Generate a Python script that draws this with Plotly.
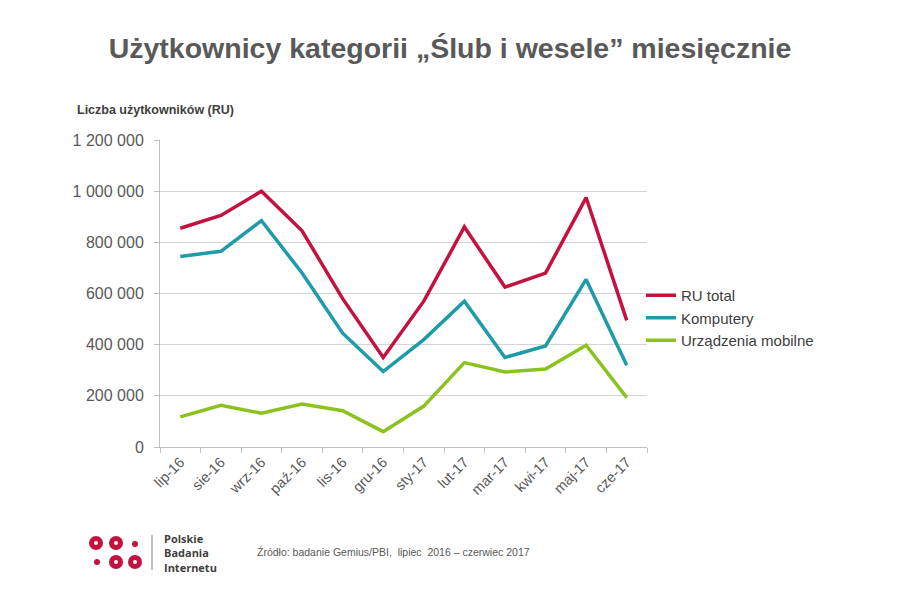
import plotly.graph_objects as go

months = ["lip-16", "sie-16", "wrz-16", "paź-16", "lis-16", "gru-16",
          "sty-17", "lut-17", "mar-17", "kwi-17", "maj-17", "cze-17"]
ru_total = [855000, 905000, 1000000, 845000, 580000, 350000,
            570000, 860000, 625000, 680000, 975000, 495000]
komputery = [745000, 765000, 885000, 680000, 445000, 295000,
             420000, 570000, 350000, 395000, 655000, 320000]
mobilne = [118000, 163000, 132000, 168000, 142000, 60000,
           160000, 330000, 293000, 305000, 398000, 193000]

y_ticks = [0, 200000, 400000, 600000, 800000, 1000000, 1200000]
y_labels = ["0", "200 000", "400 000", "600 000", "800 000", "1 000 000", "1 200 000"]

series = [
    ("RU total", ru_total, "#C4123F"),
    ("Komputery", komputery, "#1E9BA8"),
    ("Urządzenia mobilne", mobilne, "#8CC21E"),
]

# plot area in figure pixels (page is offset by 8px body margin)
L, R, T, B = 152, 261, 132, 161
PW, PH = 900 - L - R, 600 - T - B


def px(x):
    return (x - 8 - L) / PW


def py(y):
    return (600 - B - (y - 8)) / PH


fig = go.Figure()
for name, values, color in series:
    fig.add_trace(go.Scatter(x=months, y=values, mode="lines", name=name,
                             legendgroup=name,
                             line=dict(color=color, width=3.5)))

fig.update_layout(
    width=900, height=600,
    paper_bgcolor="white", plot_bgcolor="white",
    margin=dict(l=L, r=R, t=T, b=B),
    font=dict(family="Liberation Sans, Arial, sans-serif", color="#595959", size=14),
    title=dict(text="<b>Użytkownicy kategorii „Ślub i wesele” miesięcznie</b>",
               x=442 / 900, xanchor="center", y=1 - 40 / 600, yanchor="middle",
               font=dict(size=28.5, color="#595959")),
    showlegend=True,
    legend=dict(x=px(641), y=py(318), xanchor="left", yanchor="middle",
                font=dict(size=15, color="#404040"), itemwidth=30,
                traceorder="grouped", tracegroupgap=0, bgcolor="rgba(0,0,0,0)"),
)

fig.update_xaxes(
    type="category", range=[-0.5, len(months) - 0.5], tickangle=-45,
    tickson="boundaries", ticks="outside", ticklen=5, tickcolor="#BFBFBF",
    showline=True, linecolor="#BFBFBF", linewidth=1,
    showgrid=False, tickfont=dict(size=14.5, color="#595959"),
)
fig.update_yaxes(
    range=[0, 1200000], tickvals=y_ticks, ticktext=y_labels,
    ticks="outside", ticklen=5, tickcolor="#BFBFBF", ticklabelstandoff=7,
    showline=True, linecolor="#BFBFBF", linewidth=1,
    showgrid=True, gridcolor="#D4D4D4", gridwidth=1,
    zeroline=False, tickfont=dict(size=16, color="#595959"),
)

fig.add_annotation(text="<b>Liczba użytkowników (RU)</b>", xref="paper", yref="paper",
                   x=px(75), y=py(110), xanchor="left", yanchor="middle", showarrow=False,
                   font=dict(size=12.5, color="#404040"))

fig.add_annotation(text="Źródło: badanie Gemius/PBI,  lipiec  2016 – czerwiec 2017",
                   xref="paper", yref="paper", x=px(255), y=py(552),
                   xanchor="left", yanchor="middle", showarrow=False,
                   font=dict(size=10.5, color="#595959"))

# logo Polskie Badania Internetu
logo_red = "#C4123F"
rings = [(96, 543), (116, 543), (116, 562), (135, 562)]
dots = [(135, 544), (97, 562)]


def circle(cx, cy, r, color):
    fig.add_shape(type="circle", xref="paper", yref="paper",
                  x0=px(cx - r), x1=px(cx + r), y0=py(cy + r), y1=py(cy - r),
                  line=dict(width=0), fillcolor=color)


for cx, cy in rings:
    circle(cx, cy, 7, logo_red)
    circle(cx, cy, 2, "white")
for cx, cy in dots:
    circle(cx, cy, 3, logo_red)

fig.add_shape(type="line", xref="paper", yref="paper",
              x0=px(152), x1=px(152), y0=py(570), y1=py(535),
              line=dict(color="#808080", width=1))
fig.add_annotation(text="<b>Polskie<br>Badania<br>Internetu</b>", xref="paper", yref="paper",
                   x=px(162), y=py(553), xanchor="left", yanchor="middle",
                   align="left", showarrow=False,
                   font=dict(size=11, color="#404040", family="Open Sans, sans-serif"))

fig.write_html("out.html")
